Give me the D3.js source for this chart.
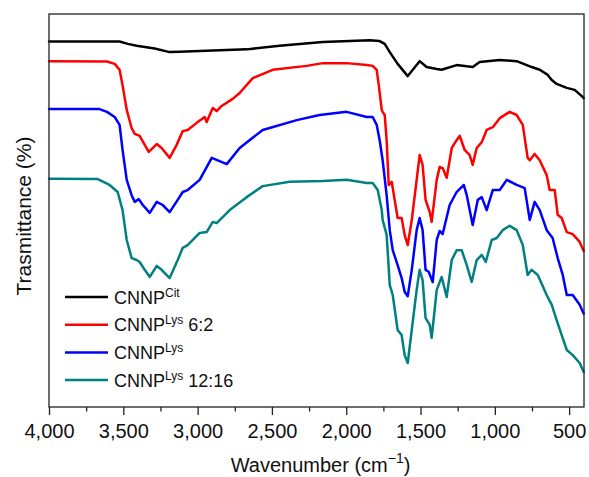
<!DOCTYPE html>
<html>
<head>
<meta charset="utf-8">
<script src="https://cdn.jsdelivr.net/npm/d3@7"></script>
<style>
  body { margin: 0; background: #fff; }
  svg { display: block; font-family: "Liberation Sans", Arial, sans-serif; }
  .line { fill: none; stroke-width: 2.5; stroke-linejoin: round; stroke-linecap: round; }
</style>
</head>
<body>
<div id="my_dataviz"></div>
<script>
// wavenumber (cm-1), transmittance (offset, arbitrary %)
var citData = [
  [4000, 93.0], [3660, 93.0], [3525, 93.0], [3470, 92.4], [3410, 91.9], [3289, 91.2],
  [3188, 90.3], [3121, 90.4], [2670, 91.0], [2448, 91.9], [2158, 92.9], [1842, 93.3],
  [1775, 93.1], [1741, 92.4], [1707, 90.3], [1654, 87.3], [1586, 84.2], [1506, 88.0],
  [1459, 86.5], [1391, 86.0], [1358, 85.8], [1257, 87.0], [1149, 86.5], [1102, 87.8],
  [967, 88.3], [853, 88.0], [785, 87.0], [752, 86.5], [698, 85.8], [644, 84.5],
  [617, 83.2], [584, 82.2], [516, 81.2], [463, 80.7], [409, 78.9], [402, 78.6]
];

var lys62Data = [
  [4000, 88.0], [3610, 87.9], [3558, 87.3], [3525, 85.8], [3505, 81.9], [3477, 75.6],
  [3444, 71.0], [3423, 69.5], [3390, 69.0], [3356, 66.7], [3329, 64.9], [3275, 66.9],
  [3242, 65.9], [3188, 63.4], [3141, 66.7], [3100, 70.2], [3067, 70.5], [3006, 72.3],
  [2952, 73.8], [2939, 72.5], [2898, 76.1], [2872, 75.3], [2838, 76.6], [2764, 78.4],
  [2717, 79.9], [2629, 83.7], [2495, 85.8], [2266, 86.8], [2158, 87.5], [1997, 87.5],
  [1862, 87.0], [1822, 86.8], [1795, 85.8], [1781, 81.9], [1761, 75.6], [1755, 75.1],
  [1741, 74.3], [1728, 67.9], [1714, 56.5], [1694, 57.3], [1674, 52.7], [1654, 48.1],
  [1627, 48.1], [1607, 43.8], [1586, 41.2], [1559, 47.6], [1526, 57.8], [1506, 64.1],
  [1486, 61.6], [1466, 52.7], [1438, 49.6], [1425, 47.1], [1391, 57.8], [1371, 61.1],
  [1351, 60.8], [1324, 58.3], [1290, 65.9], [1257, 67.9], [1236, 69.0], [1203, 65.4],
  [1169, 64.1], [1149, 61.6], [1122, 65.9], [1088, 67.4], [1055, 70.5], [1014, 71.2],
  [967, 73.5], [900, 75.1], [853, 74.3], [812, 71.8], [779, 63.4], [765, 62.8],
  [732, 64.4], [698, 62.8], [651, 59.0], [631, 55.2], [597, 55.2], [577, 48.9],
  [550, 48.1], [516, 44.5], [476, 44.0], [429, 42.0], [402, 39.7]
];

var lysData = [
  [4000, 75.8], [3660, 75.8], [3610, 75.1], [3558, 73.8], [3525, 71.8], [3505, 65.4],
  [3477, 57.8], [3444, 53.9], [3423, 52.2], [3396, 52.9], [3369, 51.4], [3322, 49.4],
  [3275, 52.2], [3235, 51.4], [3188, 49.6], [3134, 52.7], [3100, 54.7], [3067, 55.2],
  [2986, 57.8], [2905, 63.4], [2804, 61.8], [2717, 65.9], [2562, 70.5], [2333, 73.0],
  [2179, 74.3], [1997, 75.1], [1862, 73.8], [1822, 73.8], [1795, 71.8], [1775, 67.9],
  [1755, 62.8], [1728, 53.9], [1707, 45.0], [1687, 39.9], [1654, 36.1], [1627, 32.8],
  [1607, 29.3], [1586, 28.2], [1559, 34.9], [1526, 45.0], [1506, 48.1], [1486, 45.0],
  [1466, 34.9], [1445, 34.4], [1418, 31.8], [1391, 42.5], [1371, 44.8], [1351, 44.0],
  [1304, 51.4], [1257, 54.7], [1209, 56.5], [1189, 53.9], [1149, 46.3], [1115, 52.7],
  [1088, 53.4], [1055, 50.1], [1014, 55.2], [967, 55.2], [920, 57.8], [853, 56.5],
  [799, 55.7], [765, 47.6], [732, 52.2], [698, 50.1], [651, 45.0], [611, 43.0],
  [577, 37.9], [543, 33.6], [516, 28.5], [476, 28.5], [429, 26.0], [402, 23.7]
];

var lys1216Data = [
  [4000, 58.1], [3672, 58.0], [3592, 56.5], [3538, 54.7], [3505, 50.1], [3477, 42.5],
  [3444, 37.9], [3410, 37.4], [3390, 36.9], [3356, 34.9], [3322, 33.1], [3275, 35.9],
  [3242, 34.9], [3188, 32.8], [3134, 37.4], [3100, 40.5], [3067, 41.2], [2986, 44.3],
  [2939, 44.5], [2898, 47.1], [2872, 46.8], [2784, 50.1], [2670, 53.4], [2562, 56.2],
  [2380, 57.3], [2158, 57.5], [1997, 57.8], [1862, 57.0], [1822, 57.0], [1788, 55.2],
  [1761, 50.1], [1755, 47.6], [1728, 43.8], [1707, 31.0], [1687, 28.5], [1654, 19.6],
  [1627, 18.3], [1607, 13.2], [1586, 11.2], [1559, 19.6], [1526, 29.8], [1506, 34.9],
  [1486, 32.3], [1466, 22.6], [1438, 20.9], [1425, 17.6], [1391, 29.8], [1358, 33.1],
  [1324, 28.0], [1290, 37.4], [1257, 39.9], [1223, 39.9], [1189, 36.1], [1156, 31.8],
  [1122, 37.4], [1088, 38.7], [1061, 36.9], [1021, 42.5], [987, 43.0], [947, 45.0],
  [900, 46.1], [853, 45.0], [812, 41.2], [779, 33.6], [752, 34.9], [711, 33.6],
  [651, 28.5], [617, 26.0], [584, 22.1], [550, 18.3], [516, 14.5], [476, 13.2],
  [429, 11.2], [402, 8.9]
];

var seriesNames = ["Cit", "Lys 6:2", "Lys", "Lys 12:16"];
var seriesColors = ["#000000", "#ff0000", "#0000ff", "#008080"];
var xTicks = [4000, 3500, 3000, 2500, 2000, 1500, 1000, 500];
var xMinorTicks = [3750, 3250, 2750, 2250, 1750, 1250, 750];

var margin = { top: 14, right: 5, bottom: 70, left: 49 },
width = 589 - margin.left - margin.right,
height = 477 - margin.top - margin.bottom;

var x = d3.scaleLinear()
    .domain([4000, 400])
    .range([0, width]);

var y = d3.scaleLinear()
    .domain([0, 100])
    .range([height, 0]);

var valueline = d3.line()
    .x(function(d) { return x(d[0]); })
    .y(function(d) { return y(d[1]); });

var svg = d3.select("#my_dataviz")
  .append("svg")
    .attr("width", width + margin.left + margin.right)
    .attr("height", height + margin.top + margin.bottom)
  .append("g")
    .attr("transform", "translate(" + margin.left + "," + margin.top + ")");

// spectra
var allData = [citData, lys62Data, lysData, lys1216Data];
svg.selectAll(".line")
    .data(allData)
  .enter().append("path")
    .attr("class", "line")
    .attr("stroke", function(d, i) { return seriesColors[i]; })
    .attr("d", valueline);

// frame
svg.append("rect")
    .attr("width", width)
    .attr("height", height)
    .attr("fill", "none")
    .attr("stroke", "#222")
    .attr("stroke-width", 1.3);

// x axis, major ticks
var xAxis = svg.append("g")
    .attr("transform", "translate(0," + height + ")")
    .call(d3.axisBottom(x)
        .tickValues(xTicks)
        .tickFormat(d3.format(","))
        .tickSize(8)
        .tickPadding(9));
xAxis.select(".domain").remove();
xAxis.selectAll("line").attr("stroke", "#222").attr("stroke-width", 1.3);
xAxis.selectAll("text")
    .attr("fill", "#111")
    .style("font-size", "20px")
    .style("font-family", "'Liberation Sans', Arial, sans-serif");

// minor ticks
var xMinor = svg.append("g")
    .attr("transform", "translate(0," + height + ")")
    .call(d3.axisBottom(x)
        .tickValues(xMinorTicks)
        .tickFormat("")
        .tickSize(4.5));
xMinor.select(".domain").remove();
xMinor.selectAll("line").attr("stroke", "#222").attr("stroke-width", 1.3);

// x title
var xTitle = svg.append("text")
    .attr("x", width / 2 + 4)
    .attr("y", height + 65)
    .attr("text-anchor", "middle")
    .attr("fill", "#111")
    .style("font-size", "20px");
xTitle.append("tspan").text("Wavenumber (cm");
xTitle.append("tspan").attr("dy", -9).style("font-size", "14px").text("\u22121");
xTitle.append("tspan").attr("dy", 9).text(")");

// y title
svg.append("text")
    .attr("transform", "translate(" + (31 - margin.left) + "," + (216 - margin.top) + ") rotate(-90)")
    .attr("text-anchor", "middle")
    .attr("fill", "#111")
    .style("font-size", "21px")
    .text("Trasmittance (%)");

// legend
var legend = svg.selectAll(".legend")
    .data(seriesNames)
  .enter().append("g")
    .attr("class", "legend")
    .attr("transform", function(d, i) { return "translate(16," + (283 + i * 27.7) + ")"; });

legend.append("line")
    .attr("x1", 0)
    .attr("x2", 43)
    .attr("stroke", function(d, i) { return seriesColors[i]; })
    .attr("stroke-width", 2.5);

var legendText = legend.append("text")
    .attr("x", 49)
    .attr("y", 6.5)
    .attr("fill", "#111")
    .style("font-size", "18px");
legendText.append("tspan").text("CNNP");
legendText.append("tspan")
    .attr("dy", -7)
    .style("font-size", "12px")
    .text(function(d) { return d.split(" ")[0]; });
legendText.append("tspan")
    .attr("dy", 7)
    .text(function(d) { var p = d.split(" "); return p.length > 1 ? " " + p[1] : ""; });
</script>
</body>
</html>
